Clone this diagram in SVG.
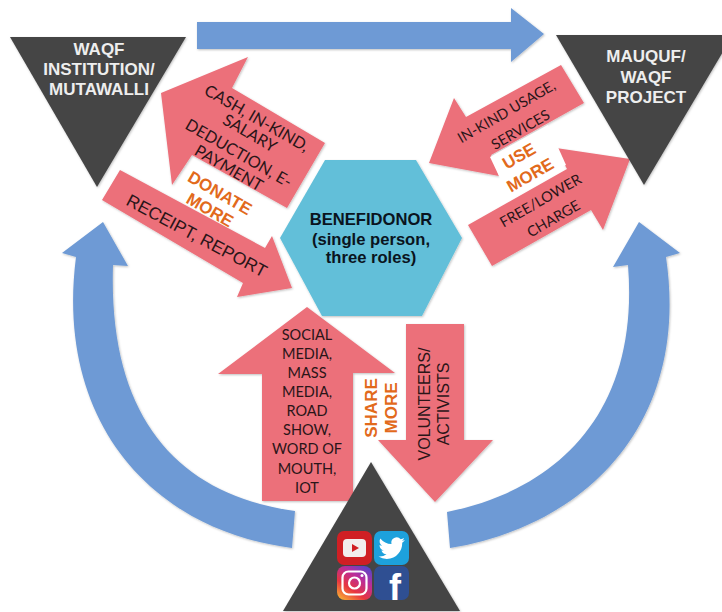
<svg xmlns="http://www.w3.org/2000/svg" width="722" height="612" viewBox="0 0 722 612">
<style>
.blue{fill:#6e9ad5}
.red{fill:#ec6f7a}
.dark{fill:#454545}
.sh{filter:url(#soft)}
text{text-anchor:middle}
.head{font:bold 17px "Liberation Sans",Arial,sans-serif;fill:#eeeeee}
.main{font:bold 16.6px "Liberation Sans",Arial,sans-serif;fill:#0a1420}
.lab{font:14.5px Lato,"Liberation Sans",sans-serif;fill:#2a1518}
.big{font:16.3px Lato,"Liberation Sans",sans-serif;fill:#2a1518}
.ar{font:16px "Liberation Sans",Arial,sans-serif;fill:#2a1518}
.ar2{font:17.5px "Liberation Sans",Arial,sans-serif;fill:#2a1518}
.or{font:bold 17px "Liberation Sans",Arial,sans-serif;fill:#e26a1c}
</style>
<defs>
<filter id="soft" x="-5%" y="-5%" width="110%" height="110%"><feDropShadow dx="0.8" dy="1" stdDeviation="0.8" flood-color="#000" flood-opacity="0.25"/></filter>
<linearGradient id="ig" x1="0.1" y1="1" x2="0.8" y2="0"><stop offset="0" stop-color="#f9b233"/><stop offset="0.35" stop-color="#e8353f"/><stop offset="0.7" stop-color="#b92d9c"/><stop offset="1" stop-color="#5a45c8"/></linearGradient>
</defs>
<rect width="722" height="612" fill="#fff"/>
<g id="connectors">
<path id="flow-top" class="blue sh" d="M197,22H511V8L544,34L511,62V49H197Z"/>
<path id="flow-left" class="blue sh" d="M295,511C180,495 108,420 113,265L128,266L103,222L62,253L76,257C55,420 150,530 292,548Z"/>
<path id="flow-right" class="blue sh" d="M447,512C555,490 640,415 628,265L613,267L639,222L680,253L666,257C690,420 590,525 450,548Z"/>
<path id="arrow-donate" class="red sh" d="M161,93L248,57L232,88L325,143L287,208L192,155L172,185Z"/>
<path id="arrow-receipt" class="red sh" d="M120,170L265,248L272,236L292,288L237,297L243,283L102,200Z"/>
<path id="arrow-inkind" class="red sh" d="M429,163L454,98L466,117L561,65L584,103L491,155L499,176Z"/>
<path id="arrow-free" class="red sh" d="M630,159L556,148L567,169L468,225L492,266L591,210L603,230Z"/>
<polygon id="use-more-bg" fill="#fff" points="490,157 548,125 566,165 508,195"/>
<path id="arrow-social" class="red sh" d="M307,307L395,373H353V501H262V374H218Z"/>
<path id="arrow-volunteers" class="red sh" d="M406,324H464V440H493L435,502L378,440H406Z"/>
</g>
<g id="labels">
<text class="big" transform="translate(254,123) rotate(30)">CASH, IN-KIND,</text>
<text class="big" transform="translate(247,138) rotate(30)">SALARY</text>
<text class="big" transform="translate(236,158) rotate(30)">DEDUCTION, E-</text>
<text class="big" transform="translate(226,173) rotate(30)">PAYMENT</text>
<text class="or" transform="translate(217,198) rotate(30)">DONATE</text>
<text class="or" transform="translate(207,215) rotate(30)">MORE</text>
<text class="ar2" transform="translate(194,241) rotate(28)">RECEIPT, REPORT</text>
<text class="lab" transform="translate(509,116) rotate(-30)">IN-KIND USAGE,</text>
<text class="lab" transform="translate(523,134) rotate(-30)">SERVICES</text>
<text class="or" transform="translate(522,161) rotate(-30)">USE</text>
<text class="or" transform="translate(533,180) rotate(-30)">MORE</text>
<text class="lab" transform="translate(543,205) rotate(-30)">FREE/LOWER</text>
<text class="lab" transform="translate(556,223) rotate(-30)">CHARGE</text>
<g>
<text class="lab" x="307" y="340">SOCIAL</text>
<text class="lab" x="307" y="359">MEDIA,</text>
<text class="lab" x="307" y="378">MASS</text>
<text class="lab" x="307" y="397">MEDIA,</text>
<text class="lab" x="307" y="416">ROAD</text>
<text class="lab" x="307" y="435">SHOW,</text>
<text class="lab" x="307" y="454">WORD OF</text>
<text class="lab" x="307" y="474">MOUTH,</text>
<text class="lab" x="307" y="493">IOT</text>
</g>
<text class="ar" transform="translate(430,404) rotate(-90)">VOLUNTEERS/</text>
<text class="ar" transform="translate(449,404) rotate(-90)">ACTIVISTS</text>
<text class="or" transform="translate(377,408) rotate(-90)">SHARE</text>
<text class="or" transform="translate(397,408) rotate(-90)">MORE</text>
</g>
<g id="node-waqf-institution">
<polygon class="dark sh" points="10,37 186,37 97,187"/>
<text class="head" x="99" y="55">WAQF</text>
<text class="head" x="99" y="75">INSTITUTION/</text>
<text class="head" x="99" y="95">MUTAWALLI</text>
</g>
<g id="node-mauquf-project">
<polygon class="dark sh" points="556,35 733,35 644,185"/>
<text class="head" x="646" y="62">MAUQUF/</text>
<text class="head" x="646" y="83">WAQF</text>
<text class="head" x="646" y="103">PROJECT</text>
</g>
<g id="node-benefidonor">
<polygon fill="#62bfd9" class="sh" points="280,238 325,160 416,160 462,238 422,316 322,316"/>
<text class="main" x="371" y="225">BENEFIDONOR</text>
<text class="main" x="371" y="245">(single person,</text>
<text class="main" x="371" y="263">three roles)</text>
</g>
<g id="node-social">
<polygon class="dark sh" points="371,462 460,611 283,611"/>
<g id="icon-youtube">
<rect x="337" y="531" width="35" height="34" rx="7" fill="#d01f24"/>
<rect x="343" y="539" width="23" height="18" rx="4" fill="#f2eeee"/>
<polygon points="352,544 352,552 359,548" fill="#d01f24"/>
</g>
<g id="icon-twitter">
<rect x="374" y="531" width="35" height="34" rx="7" fill="#1da1dc"/>
<path fill="#fff" transform="translate(378.5,535) scale(1.1)" d="M23.95 4.57a10 10 0 0 1-2.82.77 4.96 4.96 0 0 0 2.16-2.72c-.95.55-2 .96-3.12 1.18a4.92 4.92 0 0 0-8.38 4.48A13.98 13.98 0 0 1 1.64 3.16a4.92 4.92 0 0 0 1.52 6.57 4.9 4.9 0 0 1-2.23-.61v.06a4.92 4.92 0 0 0 3.95 4.83 4.9 4.9 0 0 1-2.21.08 4.94 4.94 0 0 0 4.6 3.42A9.87 9.87 0 0 1 0 19.54a14 14 0 0 0 7.55 2.21c9.05 0 14-7.5 14-13.98 0-.21 0-.42-.02-.63a9.94 9.94 0 0 0 2.46-2.55z"/>
</g>
<g id="icon-instagram">
<rect x="337" y="566" width="35" height="34" rx="8" fill="url(#ig)"/>
<rect x="342.5" y="571.5" width="24" height="23" rx="6" fill="none" stroke="#fff" stroke-width="2.2"/>
<circle cx="354.5" cy="583" r="5.5" fill="none" stroke="#fff" stroke-width="2.2"/>
<circle cx="362" cy="575.5" r="1.5" fill="#fff"/>
</g>
<g id="icon-facebook">
<rect x="374" y="566" width="35" height="34" rx="7" fill="#2f4f92"/>
<text x="395" y="600" style="font:bold 36px 'Liberation Sans',Arial,sans-serif;fill:#fff">f</text>
</g>
</g>
</svg>
